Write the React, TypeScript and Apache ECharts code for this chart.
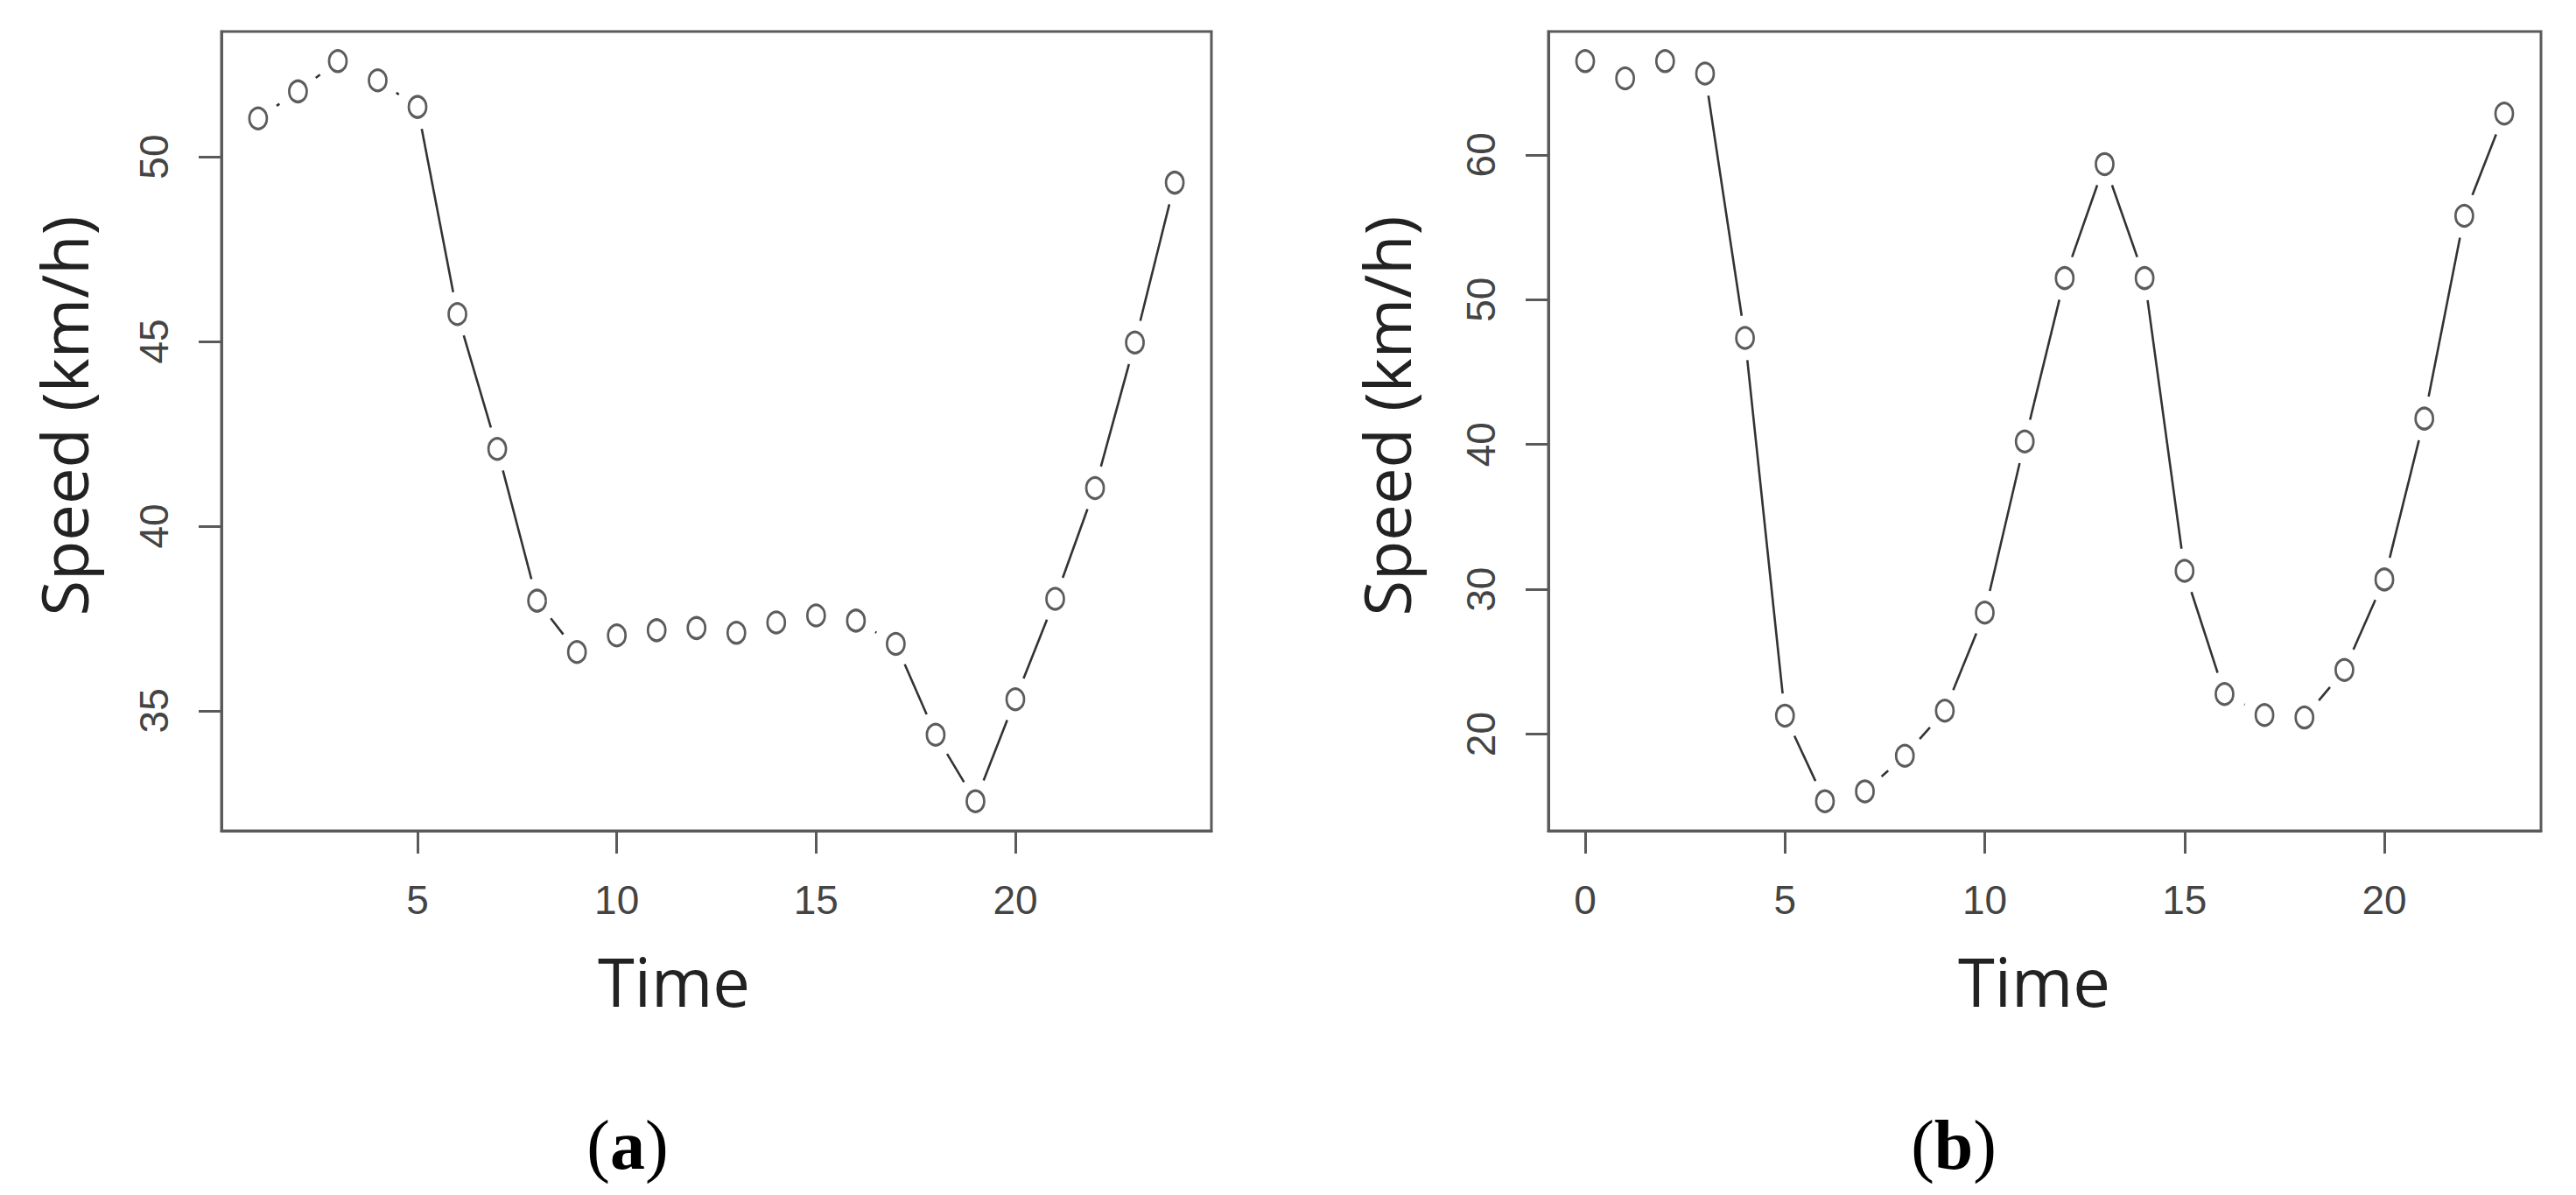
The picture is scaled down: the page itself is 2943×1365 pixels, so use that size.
import React, { useEffect, useRef } from "react";
import * as echarts from "echarts";

// ---- Data ----
const timeA = [1, 2, 3, 4, 5, 6, 7, 8, 9, 10, 11, 12, 13, 14, 15, 16, 17, 18, 19, 20, 21, 22, 23, 24];
const speedA = [51.04, 51.77, 52.59, 52.07, 51.35, 45.74, 42.09, 37.98, 36.59, 37.04, 37.18, 37.24, 37.11, 37.39, 37.58, 37.44, 36.81, 34.35, 32.55, 35.31, 38.03, 41.03, 44.97, 49.3];
const timeB = [0, 1, 2, 3, 4, 5, 6, 7, 8, 9, 10, 11, 12, 13, 14, 15, 16, 17, 18, 19, 20, 21, 22, 23];
const speedB = [66.47, 65.28, 66.47, 65.61, 47.36, 21.28, 15.37, 16.05, 18.51, 21.62, 28.39, 40.21, 51.49, 59.36, 51.49, 31.28, 22.77, 21.32, 21.15, 24.43, 30.68, 41.79, 55.79, 62.85];
const xTicksA = [5, 10, 15, 20];
const yTicksA = [35, 40, 45, 50];
const xTicksB = [0, 5, 10, 15, 20];
const yTicksB = [20, 30, 40, 50, 60];
const xTitle = "Time";
const yTitle = "Speed (km/h)";
const panelLabels = ["a", "b"];

const GAP = 25.5;
const INK = "#333";
const FRAME = "#5a5a5a";
const TICK_FONT = "'Liberation Sans Narrow', 'Liberation Sans', Arial, sans-serif";
const TITLE_FONT = "'Open Sans', 'Liberation Sans', Arial, sans-serif";

function rExtent(vals: number[]) {
  const lo = Math.min(...vals);
  const hi = Math.max(...vals);
  const pad = (hi - lo) * 0.04;
  return [lo - pad, hi + pad];
}

function segments(xs: number[], ys: number[]) {
  const out: number[][] = [];
  for (let i = 0; i < xs.length - 1; i++) out.push([xs[i], ys[i], xs[i + 1], ys[i + 1]]);
  return out;
}

function renderSeg(_params: any, api: any) {
  const p1 = api.coord([api.value(0), api.value(1)]);
  const p2 = api.coord([api.value(2), api.value(3)]);
  const dx = p2[0] - p1[0];
  const dy = p2[1] - p1[1];
  const d = Math.hypot(dx, dy);
  if (d <= 2 * GAP) return { type: "group", children: [] };
  const ux = dx / d;
  const uy = dy / d;
  return {
    type: "line",
    shape: { x1: p1[0] + ux * GAP, y1: p1[1] + uy * GAP, x2: p2[0] - ux * GAP, y2: p2[1] - uy * GAP },
    style: { stroke: INK, lineWidth: 2.6 },
  };
}

function xAxisCfg(idx: number, xs: number[], ticks: number[]) {
  const [mn, mx] = rExtent(xs);
  return {
    type: "value",
    gridIndex: idx,
    min: mn,
    max: mx,
    axisLine: { show: true, onZero: false, lineStyle: { color: FRAME, width: 3 } },
    axisTick: { show: true, length: 26, customValues: ticks, lineStyle: { color: FRAME, width: 3 } },
    axisLabel: {
      show: true,
      customValues: ticks,
      margin: 56,
      fontSize: 46,
      fontFamily: TICK_FONT,
      color: "#444",
    },
    splitLine: { show: false },
  };
}

function yAxisCfg(idx: number, ys: number[], ticks: number[]) {
  const [mn, mx] = rExtent(ys);
  return {
    type: "value",
    gridIndex: idx,
    min: mn,
    max: mx,
    axisLine: { show: true, onZero: false, lineStyle: { color: FRAME, width: 3 } },
    axisTick: { show: true, length: 26, customValues: ticks, lineStyle: { color: FRAME, width: 3 } },
    axisLabel: {
      show: true,
      customValues: ticks,
      rotate: 90,
      margin: 54,
      fontSize: 46,
      fontFamily: TICK_FONT,
      color: "#444",
    },
    splitLine: { show: false },
  };
}

export default function App() {
  const ref = useRef<HTMLDivElement>(null);
  useEffect(() => {
    document.body.style.margin = "0";
    if (!ref.current) return;
    const chart = echarts.init(ref.current, undefined, { renderer: "svg" });
    const pairsA = timeA.map((t, i) => [t, speedA[i]]);
    const pairsB = timeB.map((t, i) => [t, speedB[i]]);
    const symbolStyle = { color: "#fff", borderColor: INK, borderWidth: 3 };
    const option: any = {
      animation: false,
      backgroundColor: "#fff",
      grid: [
        { left: 253, top: 36, width: 1131, height: 913, show: true, borderColor: FRAME, borderWidth: 3, backgroundColor: "transparent" },
        { left: 1769, top: 36, width: 1134, height: 913, show: true, borderColor: FRAME, borderWidth: 3, backgroundColor: "transparent" },
      ],
      xAxis: [xAxisCfg(0, timeA, xTicksA), xAxisCfg(1, timeB, xTicksB)],
      yAxis: [yAxisCfg(0, speedA, yTicksA), yAxisCfg(1, speedB, yTicksB)],
      series: [
        {
          type: "custom",
          xAxisIndex: 0,
          yAxisIndex: 0,
          renderItem: renderSeg,
          encode: { x: [0, 2], y: [1, 3] },
          data: segments(timeA, speedA),
          silent: true,
        },
        {
          type: "scatter",
          xAxisIndex: 0,
          yAxisIndex: 0,
          symbol: "circle",
          symbolSize: [20, 24],
          itemStyle: symbolStyle,
          data: pairsA,
          silent: true,
        },
        {
          type: "custom",
          xAxisIndex: 1,
          yAxisIndex: 1,
          renderItem: renderSeg,
          encode: { x: [0, 2], y: [1, 3] },
          data: segments(timeB, speedB),
          silent: true,
        },
        {
          type: "scatter",
          xAxisIndex: 1,
          yAxisIndex: 1,
          symbol: "circle",
          symbolSize: [20, 24],
          itemStyle: symbolStyle,
          data: pairsB,
          silent: true,
        },
      ],
      graphic: [
        {
          type: "text",
          x: 72,
          y: 475,
          rotation: Math.PI / 2,
          style: { text: yTitle, fontSize: 74, fontFamily: TITLE_FONT, fill: "#222", align: "center", verticalAlign: "middle" },
        },
        {
          type: "text",
          x: 1583,
          y: 475,
          rotation: Math.PI / 2,
          style: { text: yTitle, fontSize: 74, fontFamily: TITLE_FONT, fill: "#222", align: "center", verticalAlign: "middle" },
        },
        {
          type: "text",
          x: 770,
          y: 1120,
          style: { text: xTitle, fontSize: 76, fontFamily: TITLE_FONT, fill: "#222", align: "center", verticalAlign: "middle" },
        },
        {
          type: "text",
          x: 2324,
          y: 1120,
          style: { text: xTitle, fontSize: 76, fontFamily: TITLE_FONT, fill: "#222", align: "center", verticalAlign: "middle" },
        },
        ...panelLabels.map((l, i) => ({
          type: "text",
          x: i === 0 ? 717 : 2232,
          y: 1308,
          style: {
            text: `{p|(}{b|${l}}{p|)}`,
            align: "center",
            verticalAlign: "middle",
            rich: {
              p: { fontSize: 80, fontFamily: "'Liberation Serif', 'DejaVu Serif', serif", fill: "#000" },
              b: { fontSize: 80, fontWeight: "bold", fontFamily: "'Liberation Serif', 'DejaVu Serif', serif", fill: "#000" },
            },
          },
        })),
      ],
    };
    chart.setOption(option);
    return () => chart.dispose();
  }, []);
  return <div ref={ref} style={{ width: 2943, height: 1365 }} />;
}
